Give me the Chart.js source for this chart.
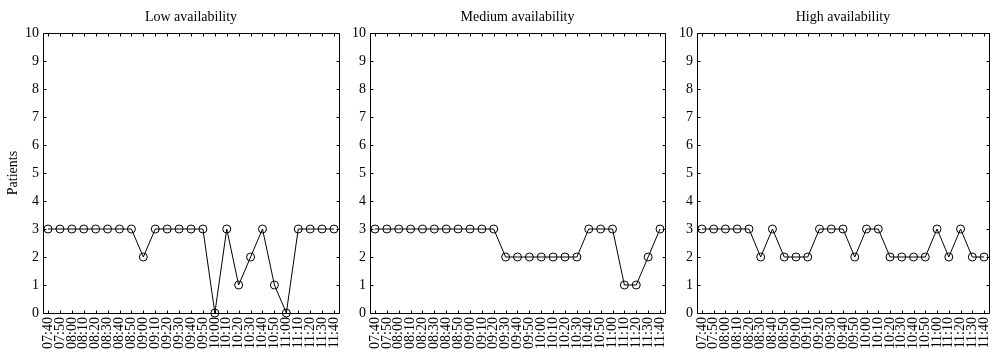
<!DOCTYPE html>
<html>
<head>
<meta charset="utf-8">
<script src="https://cdn.jsdelivr.net/npm/chart.js@4.4.0/dist/chart.umd.min.js"></script>
<style>
  body { margin: 0; background: #fff; }
  #wrap { position: relative; width: 994px; height: 352px; overflow: hidden; }
  .panel { position: absolute; top: 0; height: 352px; }
</style>
</head>
<body>
<div id="wrap">
  <div class="panel" style="left:0px;width:344px;"><canvas id="lowChart"></canvas></div>
  <div class="panel" style="left:344px;width:326px;"><canvas id="mediumChart"></canvas></div>
  <div class="panel" style="left:670px;width:324px;"><canvas id="highChart"></canvas></div>
</div>
<script>
/* chart data */

var timeLabels = ['07:40', '07:50', '08:00', '08:10', '08:20', '08:30', '08:40', '08:50',
  '09:00', '09:10', '09:20', '09:30', '09:40', '09:50', '10:00', '10:10', '10:20',
  '10:30', '10:40', '10:50', '11:00', '11:10', '11:20', '11:30', '11:40'];

var lowValues    = [3, 3, 3, 3, 3, 3, 3, 3, 2, 3, 3, 3, 3, 3, 0, 3, 1, 2, 3, 1, 0, 3, 3, 3, 3];
var mediumValues = [3, 3, 3, 3, 3, 3, 3, 3, 3, 3, 3, 2, 2, 2, 2, 2, 2, 2, 3, 3, 3, 1, 1, 2, 3];
var highValues   = [3, 3, 3, 3, 3, 2, 3, 2, 2, 2, 3, 3, 3, 2, 3, 3, 2, 2, 2, 2, 3, 2, 3, 2, 2];

var panelTitles = ['Low availability', 'Medium availability', 'High availability'];
var yAxisTitle = 'Patients';
var yMin = 0;
var yMax = 10;

Chart.defaults.font.family = "'Liberation Serif', 'Times New Roman', serif";
Chart.defaults.font.size = 14;
Chart.defaults.color = '#000';

// box around the plot with small inward tick marks on all four sides
var framePlugin = {
  id: 'frame',
  afterDraw: function(chart) {
    var ctx = chart.ctx;
    var a = chart.chartArea;
    var l = Math.round(a.left) + 0.5;
    var r = Math.round(a.right) + 0.5;
    var t = Math.round(a.top) + 0.5;
    var b = Math.round(a.bottom) + 0.5;
    var tick = 3;

    ctx.save();
    ctx.strokeStyle = '#000';
    ctx.lineWidth = 1;
    ctx.beginPath();
    ctx.rect(l, t, r - l, b - t);

    var xs = chart.scales.x;
    xs.ticks.forEach(function(tk) {
      var px = Math.round(xs.getPixelForValue(tk.value)) + 0.5;
      ctx.moveTo(px, b);
      ctx.lineTo(px, b - tick);
      ctx.moveTo(px, t);
      ctx.lineTo(px, t + tick);
    });

    var ys = chart.scales.y;
    ys.ticks.forEach(function(tk) {
      var py = Math.round(ys.getPixelForValue(tk.value)) + 0.5;
      ctx.moveTo(l, py);
      ctx.lineTo(l + tick, py);
      ctx.moveTo(r, py);
      ctx.lineTo(r - tick, py);
    });
    ctx.stroke();
    ctx.restore();
  }
};

function makePanel(canvasID, title, values, yAxisWidth, rightPad, showYTitle) {
  var points = values.map(function(v, i) {
    return { x: i, y: v };
  });

  return new Chart(document.getElementById(canvasID), {
    type: 'line',
    data: {
      datasets: [{
        data: points,
        borderColor: '#000',
        borderWidth: 1,
        tension: 0,
        pointRadius: 4,
        pointHoverRadius: 4,
        pointBorderWidth: 1,
        pointBorderColor: '#000',
        pointBackgroundColor: 'rgba(0,0,0,0)',
        fill: false,
        clip: false
      }]
    },
    options: {
      responsive: true,
      maintainAspectRatio: false,
      animation: false,
      devicePixelRatio: 1,
      events: [],
      layout: { padding: { top: 0, right: rightPad, bottom: 0, left: 0 } },
      plugins: {
        legend: { display: false },
        tooltip: { enabled: false },
        title: {
          display: true,
          text: title,
          fullSize: false,
          color: '#000',
          font: { size: 14, weight: 'normal' },
          padding: { top: 9, bottom: 7.2 }
        }
      },
      scales: {
        x: {
          type: 'linear',
          min: -0.42,
          max: timeLabels.length - 1 + 0.42,
          grid: { display: false, drawTicks: false },
          border: { display: false },
          afterBuildTicks: function(scale) {
            scale.ticks = timeLabels.map(function(lab, i) {
              return { value: i };
            });
          },
          afterFit: function(scale) {
            // keep the plot width fixed; rotated end labels need no extra room
            scale.height = 39;
            scale.paddingLeft = 0;
            scale.paddingRight = 0;
          },
          ticks: {
            autoSkip: false,
            maxRotation: 90,
            minRotation: 90,
            padding: 4,
            font: { size: 14 },
            callback: function(value) {
              return timeLabels[value];
            }
          }
        },
        y: {
          min: yMin,
          max: yMax,
          grid: { display: false, drawTicks: false },
          border: { display: false },
          afterFit: function(scale) {
            scale.width = yAxisWidth;
            scale.paddingTop = 0;
            scale.paddingBottom = 0;
          },
          ticks: {
            stepSize: 1,
            padding: 4,
            font: { size: 14 }
          },
          title: {
            display: showYTitle,
            text: yAxisTitle,
            font: { size: 14 },
            padding: { top: 5, bottom: 4 }
          }
        }
      }
    },
    plugins: [framePlugin]
  });
}

makePanel('lowChart', panelTitles[0], lowValues, 43, 4, true);
makePanel('mediumChart', panelTitles[1], mediumValues, 26, 4, false);
makePanel('highChart', panelTitles[2], highValues, 27, 1, false);
</script>
</body>
</html>
